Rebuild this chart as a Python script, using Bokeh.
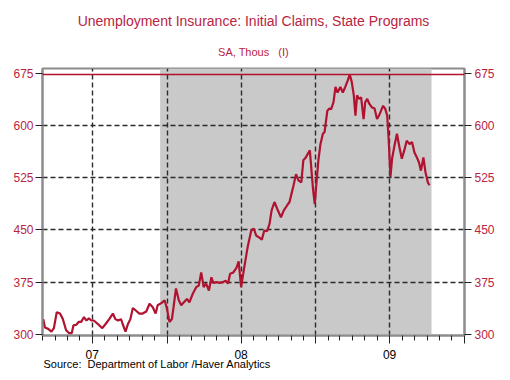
import pandas as pd
from bokeh.plotting import figure
from bokeh.models import Range1d, LinearAxis, FixedTicker, Span, BoxAnnotation, Title
from bokeh.embed import file_html
from bokeh.resources import INLINE

# ---- data ----
DATES = [
    "2007-03-03", "2007-03-07", "2007-03-15", "2007-03-23", "2007-03-29", "2007-04-05",
    "2007-04-13", "2007-04-20", "2007-04-28", "2007-05-05", "2007-05-12", "2007-05-16",
    "2007-05-23", "2007-05-29", "2007-06-04", "2007-06-11", "2007-06-17", "2007-06-23",
    "2007-06-29", "2007-07-05", "2007-07-15", "2007-07-26", "2007-08-03", "2007-08-12",
    "2007-08-21", "2007-08-27", "2007-09-03", "2007-09-10", "2007-09-14", "2007-09-21",
    "2007-09-27", "2007-10-03", "2007-10-09", "2007-10-17", "2007-10-25", "2007-11-02",
    "2007-11-11", "2007-11-19", "2007-11-27", "2007-12-04", "2007-12-09", "2007-12-18",
    "2007-12-26", "2007-12-31", "2008-01-07", "2008-01-13", "2008-01-17", "2008-01-23",
    "2008-01-30", "2008-02-05", "2008-02-11", "2008-02-19", "2008-02-25", "2008-03-04",
    "2008-03-13", "2008-03-19", "2008-03-25", "2008-03-31", "2008-04-06", "2008-04-13",
    "2008-04-19", "2008-04-24", "2008-05-02", "2008-05-09", "2008-05-17", "2008-05-24",
    "2008-05-30", "2008-06-04", "2008-06-12", "2008-06-20", "2008-06-25", "2008-07-01",
    "2008-07-09", "2008-07-17", "2008-07-26", "2008-08-01", "2008-08-07", "2008-08-15",
    "2008-08-21", "2008-08-27", "2008-09-03", "2008-09-09", "2008-09-14", "2008-09-21",
    "2008-09-28", "2008-10-07", "2008-10-14", "2008-10-22", "2008-10-28", "2008-11-02",
    "2008-11-07", "2008-11-13", "2008-11-19", "2008-11-26", "2008-12-01", "2008-12-06",
    "2008-12-12", "2008-12-17", "2008-12-21", "2008-12-25", "2008-12-29", "2009-01-02",
    "2009-01-07", "2009-01-12", "2009-01-18", "2009-01-22", "2009-01-29", "2009-02-03",
    "2009-02-07", "2009-02-13", "2009-02-18", "2009-02-23", "2009-03-02", "2009-03-08",
    "2009-03-14", "2009-03-20", "2009-03-25", "2009-03-30", "2009-04-04", "2009-04-08",
    "2009-04-12", "2009-04-16", "2009-04-22", "2009-04-28", "2009-05-02", "2009-05-07",
    "2009-05-12", "2009-05-18", "2009-05-25", "2009-05-31", "2009-06-05", "2009-06-10",
    "2009-06-15", "2009-06-20", "2009-06-25", "2009-06-29", "2009-07-03", "2009-07-07",
    "2009-07-13", "2009-07-19", "2009-07-25", "2009-07-31", "2009-08-06", "2009-08-12",
    "2009-08-19", "2009-08-25", "2009-08-31", "2009-09-06", "2009-09-11", "2009-09-16",
    "2009-09-22", "2009-09-27", "2009-10-03", "2009-10-07",
]
CLAIMS = [
    322, 310, 308, 304, 309, 332,
    330, 322, 306, 302, 302, 313,
    314, 318, 318, 325, 320, 323,
    320, 320, 315, 309, 315, 322,
    330, 322, 320, 322, 315, 304,
    315, 322, 338, 334, 330, 330,
    333, 344, 339, 330, 342, 345,
    349, 339, 318, 322, 339, 366,
    349, 342, 346, 351, 346, 358,
    368, 370, 389, 368, 373, 363,
    382, 374, 375, 374, 375, 377,
    373, 387, 389, 396, 405, 368,
    397, 425, 449, 452, 442, 439,
    436, 449, 448, 459, 478, 490,
    480, 468, 478, 485, 490, 502,
    514, 530, 521, 518, 550, 553,
    559, 564, 535, 507, 487, 516,
    550, 573, 588, 590, 621, 624,
    623, 633, 655, 647, 655, 647,
    655, 664, 673, 662, 643, 614,
    643, 638, 640, 609, 633, 638,
    631, 626, 624, 609, 614, 621,
    628, 624, 614, 576, 526, 552,
    571, 588, 569, 552, 564, 578,
    573, 576, 561, 554, 547, 535,
    554, 533, 518, 514,
]
Y_TICKS = [300, 375, 450, 525, 600, 675]
Y_GRID = [375, 450, 525, 600]
YEAR_LABELS = {"2007-07-01": "07", "2008-07-01": "08", "2009-07-01": "09"}
X_START, X_END = "2007-03-01", "2010-01-01"
RECESSION = ("2007-12-15", "2009-10-12")
TITLE = "Unemployment Insurance: Initial Claims, State Programs"
SUBTITLE = "SA, Thous\u00a0\u00a0\u00a0(I)"
SOURCE = "Source:\u00a0\u00a0Department of Labor /Haver Analytics"
SOURCE_ANCHOR = "2007-12-08"   # horizontal centre of the source note (layout only)

RED_TXT = "#b8243f"
LINE_RED = "#b0122f"
FRAME = "#8c8c8c"
FONT = "Liberation Sans"


def ms(d):
    return pd.Timestamp(d).value // 10**6


dates = pd.to_datetime(DATES)

p = figure(width=500, height=372, x_axis_type="datetime",
           output_backend="svg", toolbar_location=None,
           x_range=Range1d(ms(X_START), ms(X_END)),
           y_range=Range1d(298.5, 681.5),
           min_border_left=42, min_border_right=36,
           min_border_top=68, min_border_bottom=37)
p.background_fill_color = "white"
p.border_fill_color = "white"
p.outline_line_color = FRAME
p.outline_line_width = 2

# recession shading
p.add_layout(BoxAnnotation(left=ms(RECESSION[0]), right=ms(RECESSION[1]),
                           fill_color="#c9c9c9", fill_alpha=1.0,
                           line_alpha=0, level="image"))

# ticks
months = pd.date_range(X_START, X_END, freq="MS")
major = [ms(m) for m in months if m.month in (1, 7)]
minor = [ms(m) for m in months]
overrides = {t: "" for t in major}
for d, lab in YEAR_LABELS.items():
    overrides[ms(d)] = lab

xa = p.xaxis[0]
xa.ticker = FixedTicker(ticks=major, minor_ticks=minor)
xa.major_label_overrides = overrides
xa.axis_line_color = FRAME
xa.axis_line_width = 2
xa.major_tick_line_color = "#222222"
xa.minor_tick_line_color = "#222222"
xa.major_tick_out = 8
xa.major_tick_in = 0
xa.minor_tick_out = 5
xa.minor_tick_in = 0
xa.major_label_standoff = 6
xa.major_label_text_font = FONT
xa.major_label_text_font_size = "12px"
xa.major_label_text_color = "black"

# source note, drawn as the single label of a bare second bottom axis
src_tick = ms(SOURCE_ANCHOR)
sa = LinearAxis(ticker=FixedTicker(ticks=[src_tick], minor_ticks=[]),
                major_label_overrides={src_tick: SOURCE})
sa.axis_line_color = None
sa.major_tick_line_color = None
sa.minor_tick_line_color = None
sa.major_tick_out = 0
sa.major_tick_in = 0
sa.major_label_standoff = -4
sa.major_label_text_font = FONT
sa.major_label_text_font_size = "11px"
sa.major_label_text_color = "black"
p.add_layout(sa, "below")

ya = p.yaxis[0]
ya.ticker = FixedTicker(ticks=Y_TICKS)
ra = LinearAxis(ticker=FixedTicker(ticks=Y_TICKS))
p.add_layout(ra, "right")
for a, st in ((ya, 2), (ra, 3)):
    a.axis_line_color = FRAME
    a.axis_line_width = 2
    a.major_tick_line_color = "#222222"
    a.major_tick_out = 7
    a.major_tick_in = 0
    a.minor_tick_line_color = None
    a.major_label_standoff = st
    a.major_label_text_font = FONT
    a.major_label_text_font_size = "12px"
    a.major_label_text_color = RED_TXT

# grids
p.xgrid.ticker = FixedTicker(ticks=[t for t in major if ms(X_START) < t < ms(X_END)])
p.ygrid.ticker = FixedTicker(ticks=Y_GRID)
for g in (p.xgrid[0], p.ygrid[0]):
    g.grid_line_color = "#2a2a2a"
    g.grid_line_dash = "5 3"
    g.grid_line_width = 1.4

# series
p.line(dates, CLAIMS, line_color=LINE_RED, line_width=2.2)
p.add_layout(Span(location=max(CLAIMS), dimension="width",
                  line_color=LINE_RED, line_width=1.5))

# titles
p.add_layout(Title(text=SUBTITLE, align="center", text_font=FONT,
                   text_font_size="11px", text_font_style="normal",
                   text_color=RED_TXT, standoff=21), "above")
p.add_layout(Title(text=TITLE, align="center", text_font=FONT,
                   text_font_size="14px", text_font_style="normal",
                   text_color=RED_TXT, standoff=9), "above")

open("out.html", "w").write(file_html(p, INLINE))
